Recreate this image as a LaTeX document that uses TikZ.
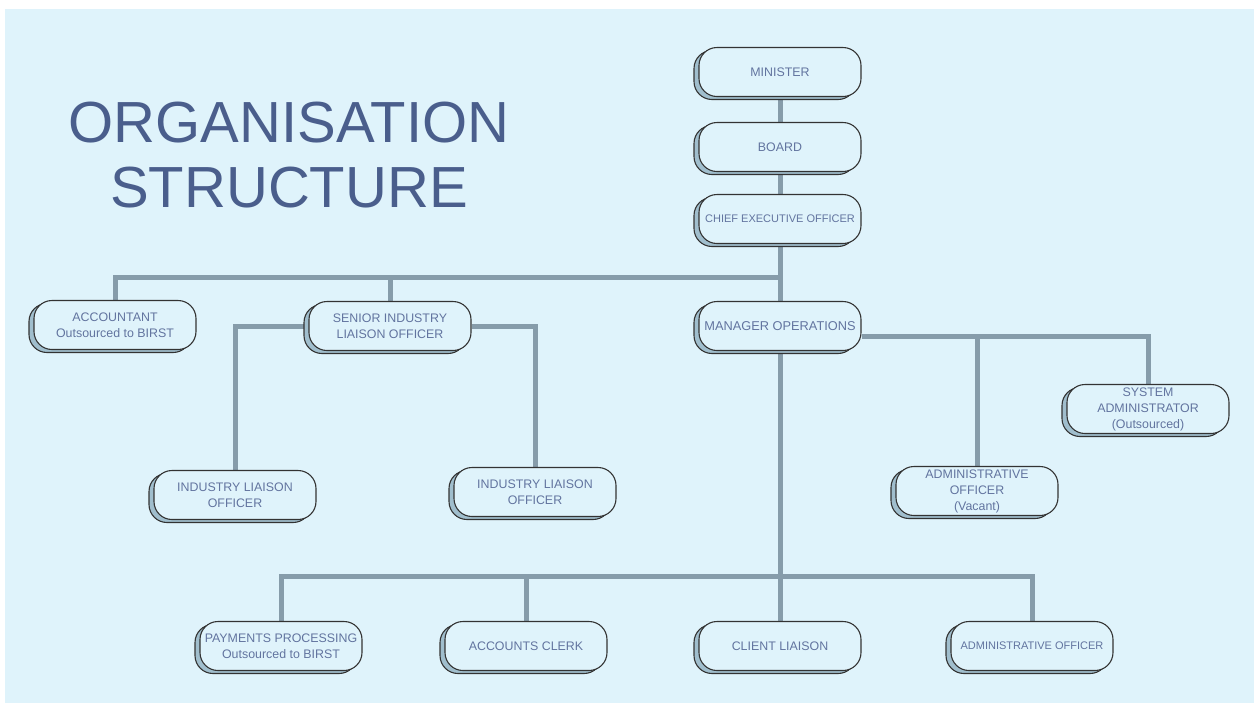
\documentclass[tikz,border=0pt]{standalone}
\usepackage{fontspec}
\setmainfont{Liberation Sans}
\usetikzlibrary{shadows}
\definecolor{bgblue}{HTML}{DFF3FB}
\definecolor{shadeblue}{HTML}{A0BECD}
\definecolor{linkgray}{HTML}{869CAA}
\definecolor{boxtext}{HTML}{62749F}
\definecolor{titleblue}{HTML}{4A5E8C}
\pgfdeclarelayer{back}
\pgfdeclarelayer{links}
\pgfsetlayers{back,links,main}
\tikzset{
  post/.style={draw=black!80, line width=.55pt, fill=bgblue, rounded corners=9pt,
    minimum width=81pt, minimum height=24.5pt, inner sep=1pt, align=center,
    text=boxtext, font=\fontsize{6.2}{8}\selectfont,
    copy shadow={shadow xshift=-2.5pt, shadow yshift=-1.5pt, fill=shadeblue, draw=black!80}},
  small/.style={font=\fontsize{5.5}{7}\selectfont},
  link/.style={draw=linkgray, line width=2.5pt}
}

\begin{document}
\begin{tikzpicture}[x=.5pt,y=-.5pt]
\useasboundingbox (0,0) rectangle (1254,703);
\begin{pgfonlayer}{back}
\fill[bgblue] (5,9) rectangle (1254,703);
\end{pgfonlayer}

\node[text=titleblue, align=center, font=\fontsize{29}{32.5}\selectfont] (title) at (289,155) {ORGANISATION\\STRUCTURE};

% top of the chart
\node[post] (minister) at (780,72) {MINISTER};
\node[post] (board) at (780,147) {BOARD};
\node[post,small] (ceo) at (780,219) {CHIEF EXECUTIVE OFFICER};

% second row
\node[post] (acct) at (115,325) {ACCOUNTANT\\Outsourced to BIRST};
\node[post] (senior) at (390,326) {SENIOR INDUSTRY\\LIAISON OFFICER};
\node[post,font=\fontsize{6.4}{8}\selectfont] (mgr) at (780,326) {MANAGER OPERATIONS};

\node[post] (ilo1) at (235,495) {INDUSTRY LIAISON\\OFFICER};
\node[post] (ilo2) at (535,492) {INDUSTRY LIAISON\\OFFICER};
\node[post] (sysadm) at (1148,409) {SYSTEM\\ADMINISTRATOR\\(Outsourced)};
\node[post] (admvac) at (977,491) {ADMINISTRATIVE\\OFFICER\\(Vacant)};

% bottom row
\node[post] (pay) at (281,646) {PAYMENTS PROCESSING\\Outsourced to BIRST};
\node[post] (clerk) at (526,646) {ACCOUNTS CLERK};
\node[post] (client) at (780,646) {CLIENT LIAISON};
\node[post,small] (admoff) at (1032,646) {ADMINISTRATIVE OFFICER};

\begin{pgfonlayer}{links}
\coordinate (ceobus) at (780,277);
\coordinate (opsbus) at (780,576);
\coordinate (mgrline) at ([yshift=-5pt]mgr.east);
\draw[link] (minister) -- (board);
\draw[link] (board) -- (ceo);
\draw[link] (ceo) -- (mgr);
\draw[link] (ceobus) -| (acct.north);
\draw[link] (senior.north) -- (senior.north |- ceobus);
\draw[link] (senior.west) -| (ilo1.north);
\draw[link] (senior.east) -| (ilo2.north);
\draw[link] (mgrline) -| (sysadm.north);
\draw[link] (admvac.north) -- (admvac.north |- mgrline);
\draw[link] (mgr) -- (client);
\draw[link] (opsbus) -| (pay.north);
\draw[link] (opsbus) -| (admoff.north);
\draw[link] (clerk.north) -- (clerk.north |- opsbus);
\end{pgfonlayer}
\end{tikzpicture}
\end{document}
